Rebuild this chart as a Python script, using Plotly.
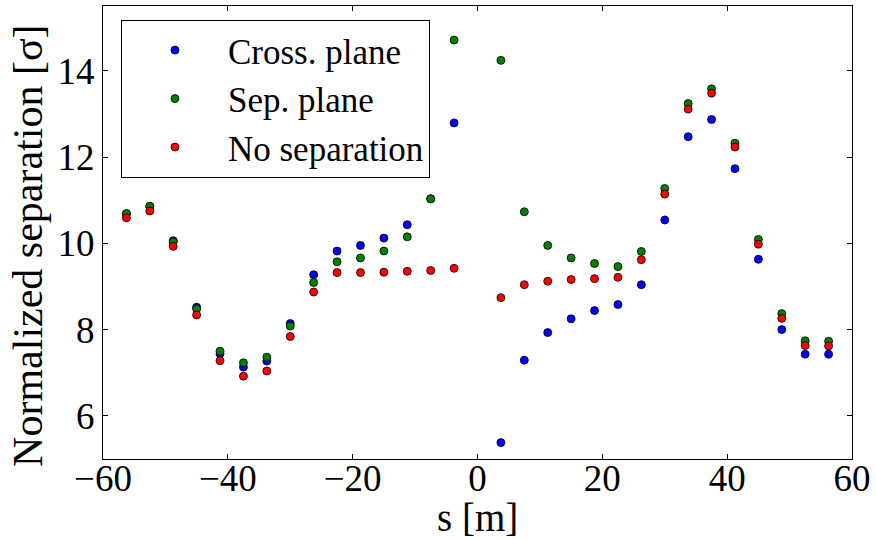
import plotly.graph_objects as go

s = [-56.25, -52.5, -48.75, -45.0, -41.25, -37.5, -33.75, -30.0, -26.25, -22.5,
     -18.75, -15.0, -11.25, -7.5, -3.75,
     3.75, 7.5, 11.25, 15.0, 18.75, 22.5, 26.25, 30.0, 33.75, 37.5,
     41.25, 45.0, 48.75, 52.5, 56.25]

cross_plane = [10.68, 10.85, 10.06, 8.52, 7.44, 7.13, 7.27, 8.14, 9.27, 9.82,
               9.95, 10.12, 10.43, 11.03, 12.79,
               5.38, 7.29, 7.93, 8.25, 8.44, 8.58, 9.04, 10.54, 12.47, 12.87,
               11.73, 9.63, 8.00, 7.43, 7.43]

sep_plane = [10.69, 10.86, 10.03, 8.48, 7.50, 7.23, 7.36, 8.08, 9.09, 9.57,
             9.66, 9.82, 10.15, 11.03, 14.71,
             14.24, 10.73, 9.95, 9.66, 9.53, 9.46, 9.81, 11.27, 13.24, 13.58,
             12.32, 10.09, 8.37, 7.74, 7.73]

no_separation = [10.59, 10.75, 9.93, 8.34, 7.28, 6.92, 7.04, 7.84, 8.87, 9.32,
                 9.32, 9.33, 9.35, 9.37, 9.42,
                 8.74, 9.04, 9.12, 9.16, 9.18, 9.21, 9.62, 11.14, 13.11, 13.48,
                 12.23, 9.98, 8.26, 7.63, 7.62]

series = [
    ("Cross. plane", cross_plane, "#0000ff"),
    ("Sep. plane", sep_plane, "#008000"),
    ("No separation", no_separation, "#ff0000"),
]

x_ticks = [-60, -40, -20, 0, 20, 40, 60]
y_ticks = [6, 8, 10, 12, 14]

FONT = "Liberation Serif, Times New Roman, serif"

fig = go.Figure()
for name, vals, color in series:
    fig.add_trace(go.Scatter(
        x=s, y=vals, mode="markers", name=name,
        marker=dict(color=color, size=8, line=dict(color="black", width=0.8)),
    ))

axis_common = dict(
    showline=True, linecolor="black", linewidth=1, mirror="allticks",
    ticks="inside", ticklen=5, tickcolor="black", tickwidth=1,
    showgrid=False, zeroline=False, automargin=False,
    tickfont=dict(family=FONT, size=37, color="black"),
)

fig.update_layout(
    width=876, height=540,
    margin=dict(l=103, r=24, t=6, b=81),
    paper_bgcolor="white", plot_bgcolor="white",
    font=dict(family=FONT, color="black"),
    xaxis=dict(range=[-60, 60], tickvals=x_ticks, ticklabelstandoff=-13,
               **axis_common),
    yaxis=dict(range=[5, 15.5], tickvals=y_ticks, **axis_common),
    annotations=[
        dict(text="s [m]", xref="paper", yref="paper", x=0.5, y=-81 / 453.3,
             xanchor="center", yanchor="bottom", showarrow=False, borderpad=0,
             font=dict(family=FONT, size=39, color="black")),
        dict(text="Normalized separation [σ]", xref="paper", yref="paper",
             x=-0.1004, y=0.47, xanchor="center", yanchor="middle",
             textangle=-90, showarrow=False,
             font=dict(family=FONT, size=42, color="black")),
    ],
    legend=dict(
        x=0.024, y=0.9695, xanchor="left", yanchor="top",
        bordercolor="black", borderwidth=1, bgcolor="white",
        font=dict(family=FONT, size=35, color="black"),
        itemwidth=96, tracegroupgap=0,
    ),
    showlegend=True,
)

fig.write_html("out.html")
